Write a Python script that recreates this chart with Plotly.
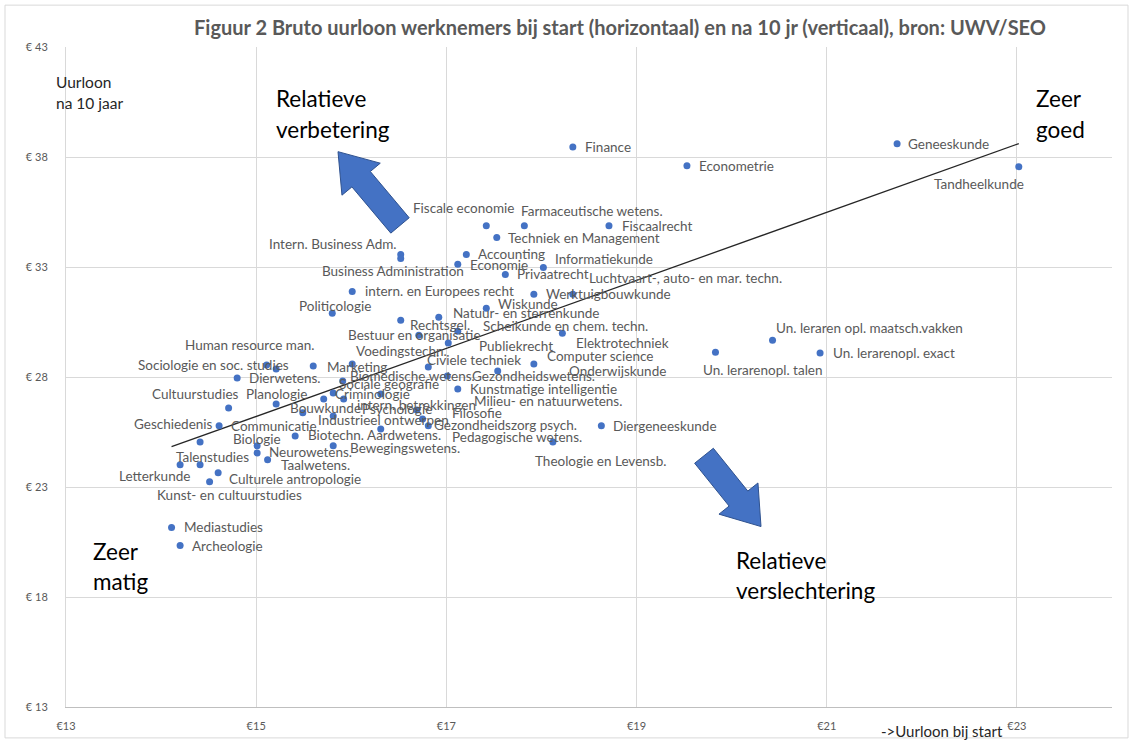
import numpy as np
import plotly.graph_objects as go

# ---------------- DATA ----------------
names = [
    "Finance", "Econometrie", "Geneeskunde", "Tandheelkunde", "Fiscale economie",
    "Farmaceutische wetens.", "Fiscaalrecht", "Techniek en Management", "Intern. Business Adm.",
    "Business Administration", "Accounting", "Economie", "Informatiekunde", "Privaatrecht",
    "Luchtvaart-, auto- en mar. techn.", "Werktuigbouwkunde", "intern. en Europees recht",
    "Politicologie", "Wiskunde", "Natuur- en sterrenkunde", "Rechtsgel.",
    "Scheikunde en chem. techn.", "Bestuur en organisatie", "Elektrotechniek", "Voedingstechn.",
    "Publiekrecht", "Civiele techniek", "Computer science", "Onderwijskunde",
    "Gezondheidswetens.", "Marketing", "Biomedische wetens.", "Sociale geografie",
    "Criminologie", "intern. betrekkingen", "Milieu- en natuurwetens.", "Psychologie",
    "Bouwkunde", "Industrieel ontwerpen", "Filosofie", "Gezondheidszorg psych.",
    "Biotechn. Aardwetens.", "Bewegingswetens.", "Pedagogische wetens.", "Theologie en Levensb.",
    "Diergeneeskunde", "Kunstmatige intelligentie", "Human resource man.",
    "Sociologie en soc. studies", "Dierwetens.", "Cultuurstudies", "Planologie",
    "Geschiedenis", "Communicatie", "Biologie", "Neurowetens.", "Taalwetens.", "Talenstudies",
    "Letterkunde", "Culturele antropologie", "Kunst- en cultuurstudies", "Mediastudies",
    "Archeologie", "Un. leraren opl. maatsch.vakken", "Un. lerarenopl. talen",
    "Un. lerarenopl. exact",
]
start_wage = [
    18.33, 19.53, 21.74, 23.02, 17.42,
    17.82, 18.71, 17.53, 16.52,
    16.52, 17.21, 17.12, 18.02, 17.62,
    18.33, 17.92, 16.01,
    15.80, 17.42, 16.92, 16.52,
    17.12, 16.71, 18.22, 16.01,
    17.02, 16.81, 17.92, 17.54,
    17.01, 15.60, 15.91, 15.81,
    15.92, 16.31, 16.69, 15.71,
    15.49, 15.81, 16.75, 16.81,
    15.41, 15.81, 16.31, 18.12,
    18.63, 17.12, 15.11,
    15.21, 14.80, 14.71, 15.21,
    14.61, 14.41, 15.01, 15.01, 15.12, 14.41,
    14.20, 14.60, 14.51, 14.11,
    14.20, 20.43, 19.83,
    20.93,
]
wage_10y = [
    38.46, 37.60, 38.60, 37.56, 34.88,
    34.88, 34.88, 34.34, 33.57,
    33.39, 33.57, 33.12, 32.98, 32.66,
    31.76, 31.76, 31.89,
    30.90, 31.12, 30.72, 30.58,
    30.08, 29.90, 29.99, 28.59,
    29.54, 28.45, 28.59, 28.27,
    28.04, 28.50, 27.82, 27.27,
    27.00, 27.23, 26.50, 27.00,
    26.37, 26.23, 26.09, 25.78,
    25.32, 24.87, 25.64, 25.05,
    25.78, 27.45, 28.54,
    28.36, 27.95, 26.59, 26.77,
    25.78, 25.05, 24.87, 24.55, 24.24, 24.01,
    24.01, 23.65, 23.24, 21.16,
    20.34, 29.67, 29.13,
    29.09,
]
x_tick_vals = [13, 15, 17, 19, 21, 23]
x_tick_text = ["€13", "€15", "€17", "€19", "€21", "€23"]
y_tick_vals = [13, 18, 23, 28, 33, 38, 43]
y_tick_text = ["€ 13", "€ 18", "€ 23", "€ 28", "€ 33", "€ 38", "€ 43"]

# ---------------- STYLE (label offsets in pixels: right, down) ----------------
label_dx = [
    11, 11, 10, -86, -74,
    -4, 12, 10, -133,
    -80, 11, 11, 11, 11,
    15, 11, 12,
    -34, 11, 13, 8,
    24, -72, 13, 3,
    30, -2, 12, 70,
    24, 13, 6, 5,
    -10, -25, 56, 37,
    -14, -16, 28, 5,
    12, 16, 70, -19,
    11, 11, -83,
    -139, 11, -78, -31,
    -86, 30, -25, 11, 12, -25,
    -62, 10, -54, 11,
    11, 2, -13,
    12,
]
label_dy = [
    0, 0, 0, 17, -18,
    -15, 0, 0, -10,
    13, 0, 1, -8, 0,
    -16, 0, 0,
    -7, -4, -4, 5,
    -5, 0, 10, -13,
    3, -7, -8, 0,
    0, 1, -5, -9,
    -5, 11, -9, 10,
    -5, 4, -6, -1,
    -1, 2, 8, 19,
    0, 0, -20,
    -4, 0, -14, -10,
    -2, -16, -7, -1, 5, -8,
    11, 6, 13, 0,
    0, -12, 18,
    0,
]

W, H = 1133, 744
L, R, T, B = 66, 1112, 47, 709
PW, PH = R - L, B - T


def pxx(px):
    return (px - L) / PW


def pxy(py):
    return (B - py) / PH


FONT = "Lato, 'Open Sans', sans-serif"
BLUE = "#4472C4"

fig = go.Figure()

# trend line (least squares on the data)
slope, icpt = np.polyfit(start_wage, wage_10y, 1)
tx = np.array([min(start_wage), max(start_wage)])
fig.add_trace(go.Scatter(x=tx, y=slope * tx + icpt, mode="lines",
                         line=dict(color="#262626", width=1.3), hoverinfo="skip",
                         showlegend=False))

fig.add_trace(go.Scatter(x=start_wage, y=wage_10y, mode="markers", text=names,
                         marker=dict(color=BLUE, size=7), showlegend=False,
                         hovertemplate="%{text}<br>%{x}<br>%{y}<extra></extra>"))

annotations = []
for n, xv, yv, dx, dy in zip(names, start_wage, wage_10y, label_dx, label_dy):
    annotations.append(dict(x=xv, y=yv, xref="x", yref="y", text=n, showarrow=False,
                            xanchor="left", yanchor="middle", xshift=dx, yshift=-dy,
                            font=dict(family=FONT, size=13.5, color="#595959"),
                            borderpad=0))


def txt(px, py, s, size, color="#000000", anchor="left"):
    annotations.append(dict(x=pxx(px), y=pxy(py), xref="paper", yref="paper", text=s,
                            showarrow=False, xanchor=anchor, yanchor="middle",
                            align="left", borderpad=0,
                            font=dict(family=FONT, size=size, color=color)))


txt(275, 99, "Relatieve", 22.5)
txt(275, 130, "verbetering", 22.5)
txt(1035, 99, "Zeer", 22.5)
txt(1035, 130, "goed", 22.5)
txt(92, 553, "Zeer", 22.5)
txt(92, 583, "matig", 22.5)
txt(735, 562, "Relatieve", 22.5)
txt(735, 592, "verslechtering", 22.5)
txt(55, 82, "Uurloon", 15.5, "#262626")
txt(55, 103, "na 10 jaar", 15.5, "#262626")
txt(880, 733, "->Uurloon bij start", 15, "#262626")


def arrow_path(tail, tip, sw, hw, hl):
    t = np.array(tail, float)
    p = np.array(tip, float)
    u = (p - t) / np.linalg.norm(p - t)
    nvec = np.array([-u[1], u[0]])
    neck = p - u * hl
    pts = [t + nvec * sw / 2, neck + nvec * sw / 2, neck + nvec * hw / 2, p,
           neck - nvec * hw / 2, neck - nvec * sw / 2, t - nvec * sw / 2]
    return "M " + " L ".join(f"{pxx(a):.5f},{pxy(b):.5f}" for a, b in pts) + " Z"


shapes = [
    dict(type="rect", xref="paper", yref="paper", x0=pxx(5), x1=pxx(1128),
         y0=pxy(740), y1=pxy(5), line=dict(color="#d9d9d9", width=1), layer="below"),
    dict(type="path", xref="paper", yref="paper",
         path=arrow_path((400, 226), (338, 152), 24, 50, 36),
         fillcolor=BLUE, line=dict(color="#2F528F", width=1)),
    dict(type="path", xref="paper", yref="paper",
         path=arrow_path((704, 457), (761, 528), 24, 50, 36),
         fillcolor=BLUE, line=dict(color="#2F528F", width=1)),
]

fig.update_layout(
    width=W, height=H, autosize=False,
    margin=dict(l=L, r=W - R, t=T, b=H - B, pad=0),
    paper_bgcolor="white", plot_bgcolor="white",
    title=dict(text="<b>Figuur 2 Bruto uurloon werknemers bij start (horizontaal) en na 10 jr (verticaal), bron: UWV/SEO</b>",
               x=pxx(620), xref="paper", xanchor="center", y=1 - 28 / H, yref="container",
               yanchor="middle", font=dict(family=FONT, size=20, color="#595959")),
    xaxis=dict(range=[13, 24], tickvals=x_tick_vals, ticktext=x_tick_text,
               showgrid=True, gridcolor="#d9d9d9", gridwidth=1, zeroline=False,
               showline=True, linecolor="#bfbfbf", ticks="", ticklabelstandoff=9,
               tickfont=dict(family=FONT, size=11, color="#595959")),
    yaxis=dict(range=[13, 43], tickvals=y_tick_vals, ticktext=y_tick_text,
               showgrid=True, gridcolor="#d9d9d9", gridwidth=1, zeroline=False,
               showline=True, linecolor="#d9d9d9", ticks="", ticklabelstandoff=15,
               tickfont=dict(family=FONT, size=11, color="#595959")),
    annotations=annotations,
    shapes=shapes,
    font=dict(family=FONT),
)

fig.write_html("out.html", config={"displayModeBar": False},
               post_script="document.body.style.margin='0';document.body.style.overflow='hidden';")
